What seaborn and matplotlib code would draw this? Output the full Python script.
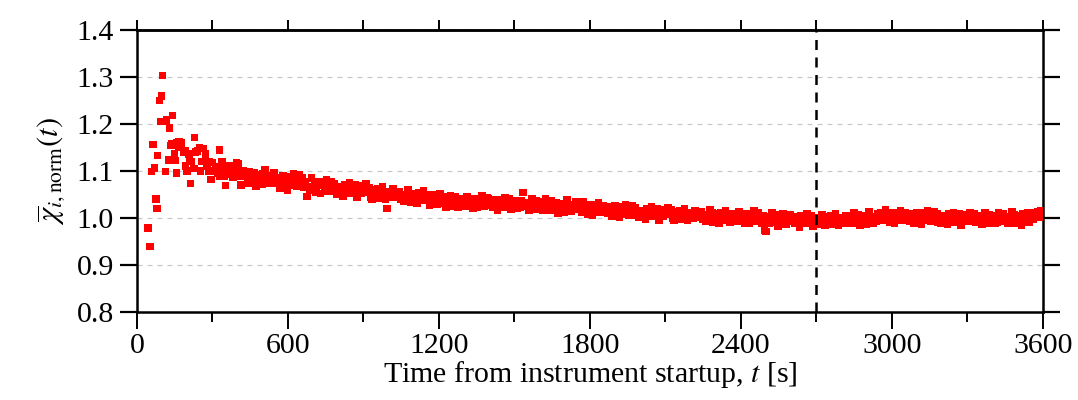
import numpy as np
import pandas as pd
import seaborn as sns
import matplotlib.pyplot as plt
from matplotlib.ticker import MultipleLocator, FormatStrFormatter

# warm-up phase, read point by point
warmup_t = [44, 52, 58, 64, 70, 75, 79, 82, 90, 95, 98, 102, 110, 114, 118, 126, 130, 135,
            140, 142, 150, 154, 158, 159, 165, 168, 176, 188, 192, 193, 199, 205, 209, 213,
            215, 226, 229, 233, 241, 249, 252, 258, 265, 272, 278, 285, 289, 294, 298, 305,
            312, 318, 322, 328, 331, 338, 343, 347, 352, 360, 365, 371, 377, 383, 390, 395,
            399, 404, 409, 413, 418, 424, 430]
warmup_v = [0.979, 0.939, 1.099, 1.156, 1.107, 1.041, 1.020, 1.133, 1.250, 1.205, 1.260, 1.303,
            1.205, 1.099, 1.208, 1.123, 1.192, 1.154, 1.157, 1.218, 1.136, 1.122, 1.096, 1.160,
            1.150, 1.162, 1.160, 1.140, 1.143, 1.110, 1.100, 1.136, 1.125, 1.073, 1.120, 1.105,
            1.171, 1.140, 1.142, 1.150, 1.100, 1.120, 1.148, 1.136, 1.110, 1.100, 1.120, 1.082,
            1.118, 1.100, 1.108, 1.100, 1.095, 1.145, 1.090, 1.120, 1.104, 1.090, 1.069, 1.110,
            1.093, 1.112, 1.100, 1.087, 1.098, 1.118, 1.105, 1.116, 1.090, 1.070, 1.094, 1.100,
            1.088]

# slow drift, one sample every 6 s from t = 436 s
drift_start, drift_step = 436, 6
drift_v = [
    1.091, 1.075, 1.099, 1.081, 1.085, 1.096, 1.068, 1.092, 1.083, 1.089, 1.072, 1.093, 1.103, 1.078, 1.086, 1.074, 1.090, 1.079, 1.097, 1.084,
    1.073, 1.086, 1.064, 1.080, 1.090, 1.071, 1.079, 1.060, 1.088, 1.082, 1.070, 1.094, 1.076, 1.067, 1.084, 1.091, 1.074, 1.085, 1.066, 1.078,
    1.046, 1.066, 1.060, 1.085, 1.062, 1.072, 1.055, 1.069, 1.078, 1.052, 1.075, 1.070, 1.063, 1.082, 1.058, 1.067, 1.076, 1.061, 1.073, 1.056,
    1.050, 1.063, 1.067, 1.059, 1.047, 1.071, 1.062, 1.054, 1.074, 1.052, 1.060, 1.057, 1.070, 1.045, 1.066, 1.069, 1.053, 1.061, 1.058, 1.072,
    1.054, 1.065, 1.045, 1.041, 1.056, 1.060, 1.049, 1.062, 1.043, 1.053, 1.067, 1.048, 1.040, 1.020, 1.051, 1.055, 1.044, 1.063, 1.046, 1.052,
    1.044, 1.055, 1.040, 1.049, 1.036, 1.046, 1.039, 1.060, 1.052, 1.034, 1.048, 1.043, 1.051, 1.031, 1.054, 1.045, 1.042, 1.057, 1.037, 1.050,
    1.038, 1.028, 1.044, 1.035, 1.049, 1.043, 1.029, 1.036, 1.051, 1.031, 1.041, 1.046, 1.023, 1.039, 1.032, 1.048, 1.040, 1.026, 1.045, 1.034,
    1.023, 1.037, 1.027, 1.040, 1.032, 1.025, 1.045, 1.029, 1.035, 1.039, 1.020, 1.041, 1.034, 1.022, 1.036, 1.028, 1.047, 1.026, 1.031, 1.042,
    1.041, 1.028, 1.031, 1.024, 1.038, 1.035, 1.016, 1.039, 1.027, 1.030, 1.023, 1.043, 1.025, 1.032, 1.040, 1.018, 1.029, 1.036, 1.033, 1.021,
    1.027, 1.022, 1.037, 1.054, 1.030, 1.026, 1.033, 1.016, 1.023, 1.041, 1.028, 1.019, 1.036, 1.024, 1.034, 1.018, 1.017, 1.021, 1.040, 1.029,
    1.029, 1.016, 1.036, 1.021, 1.024, 1.033, 1.010, 1.030, 1.022, 1.027, 1.013, 1.031, 1.039, 1.018, 1.025, 1.015, 1.028, 1.019, 1.034, 1.023,
    1.029, 1.018, 1.013, 1.034, 1.015, 1.023, 1.009, 1.021, 1.028, 1.007, 1.026, 1.022, 1.016, 1.032, 1.012, 1.019, 1.027, 1.014, 1.024, 1.010,
    1.012, 1.023, 1.004, 1.018, 1.026, 1.010, 1.017, 1.001, 1.024, 1.019, 1.009, 1.029, 1.014, 1.007, 1.021, 1.027, 1.013, 1.022, 1.006, 1.016,
    1.001, 1.013, 1.016, 1.009, 0.998, 1.020, 1.012, 1.005, 1.023, 1.003, 1.010, 1.007, 1.019, 0.996, 1.015, 1.018, 1.004, 1.011, 1.008, 1.021,
    1.008, 1.018, 1.000, 0.996, 1.010, 1.013, 1.003, 1.015, 0.998, 1.007, 1.020, 1.002, 0.995, 1.012, 1.005, 1.009, 0.999, 1.016, 1.001, 1.006,
    1.002, 1.013, 0.998, 1.007, 0.994, 1.004, 0.997, 1.018, 1.010, 0.992, 1.006, 1.001, 1.009, 0.989, 1.012, 1.003, 1.000, 1.015, 0.995, 1.008,
    0.991, 1.005, 0.995, 1.008, 1.000, 0.993, 1.013, 0.997, 1.003, 1.007, 0.988, 1.009, 1.002, 0.990, 1.004, 0.996, 1.015, 0.994, 0.999, 1.010,
    0.998, 0.988, 1.004, 0.974, 0.971, 1.003, 0.989, 0.996, 1.011, 0.991, 1.001, 1.006, 0.983, 0.999, 0.992, 1.008, 1.000, 0.986, 1.005, 0.994,
    1.006, 0.993, 0.996, 0.989, 1.003, 1.000, 0.981, 1.004, 0.992, 0.995, 0.988, 1.008, 0.990, 0.997, 1.005, 0.983, 0.994, 1.001, 0.998, 0.986,
]

# stable phase after the 2700 s marker
stable_start, stable_step = 2716, 6
stable_v = [
    0.997, 1.007, 0.989, 0.985, 0.999, 1.002, 0.992, 1.004, 0.987, 0.996, 1.009, 0.991, 0.984, 1.001, 0.994, 0.998, 0.988, 1.005, 0.990, 0.995,
    1.003, 0.990, 1.010, 0.995, 0.998, 1.007, 0.984, 1.004, 0.996, 1.001, 0.987, 1.005, 1.013, 0.992, 0.999, 0.989, 1.002, 0.993, 1.008, 0.997,
    1.012, 1.001, 0.996, 1.017, 0.998, 1.006, 0.992, 1.004, 1.011, 0.990, 1.009, 1.005, 0.999, 1.015, 0.995, 1.002, 1.010, 0.997, 1.007, 0.993,
    0.998, 1.009, 0.990, 1.004, 1.012, 0.996, 1.003, 0.987, 1.010, 1.005, 0.995, 1.015, 1.000, 0.993, 1.007, 1.013, 0.999, 1.008, 0.992, 1.002,
    0.990, 1.002, 1.005, 0.998, 0.987, 1.009, 1.001, 0.994, 1.012, 0.992, 0.999, 0.996, 1.008, 0.985, 1.004, 1.007, 0.993, 1.000, 0.997, 1.010,
    0.998, 0.993, 1.008, 0.991, 1.001, 0.997, 1.004, 0.987, 0.994, 1.012, 0.999, 0.990, 1.007, 0.995, 1.005, 0.989, 0.988, 0.992, 1.011, 1.000,
    0.998, 1.009, 0.994, 1.003, 0.990, 1.000, 0.993, 1.014, 1.006, 0.988, 1.002, 0.997, 1.005, 0.985, 1.008, 0.999, 0.996, 1.011, 0.991, 1.004,
    1.004, 0.997, 1.010, 1.006, 1.013, 1.002, 1.016, 1.009,
]

marker_t = 2700

drift_t = drift_start + drift_step * np.arange(len(drift_v))
stable_t = stable_start + stable_step * np.arange(len(stable_v))
df = pd.DataFrame({
    "t": np.concatenate([warmup_t, drift_t, stable_t]),
    "chi": np.concatenate([warmup_v, drift_v, stable_v]),
})

sns.set_style("white")
plt.rcParams["font.family"] = ["Liberation Serif", "DejaVu Serif"]
plt.rcParams["mathtext.fontset"] = "stix"
plt.rcParams["text.color"] = "black"
plt.rcParams["axes.labelcolor"] = "black"
plt.rcParams["xtick.color"] = "black"
plt.rcParams["ytick.color"] = "black"

fig = plt.figure(figsize=(10.78, 4.0), dpi=100)
ax = fig.add_axes([0.127, 0.22, 0.8405, 0.705])

ax.grid(axis="y", color="#c8c8c8", linestyle=(0, (4, 4)), linewidth=0.9)
ax.set_axisbelow(True)

sns.scatterplot(data=df, x="t", y="chi", ax=ax, marker="s", s=30, color="#ff0000",
                edgecolor="none", linewidth=0, zorder=3)

ax.axvline(marker_t, color="black", linestyle=(0, (4, 3)), linewidth=1.8, zorder=4)

ax.set_xlim(0, 3600)
ax.set_ylim(0.8, 1.4)
ax.xaxis.set_major_locator(MultipleLocator(600))
ax.xaxis.set_minor_locator(MultipleLocator(300))
ax.yaxis.set_major_locator(MultipleLocator(0.1))
ax.yaxis.set_major_formatter(FormatStrFormatter("%.1f"))

for side in ax.spines.values():
    side.set_linewidth(1.8)
    side.set_color("black")

ax.tick_params(axis="y", which="major", direction="out", length=12.5, width=1.6,
               left=True, right=True, labelsize=21.5, pad=4, colors="black")
ax.tick_params(axis="x", which="major", direction="out", length=12, width=1.4,
               bottom=True, top=False, labelsize=21.5, pad=3, colors="black")
ax.tick_params(axis="x", which="minor", direction="out", length=7, width=1.4,
               bottom=True, top=False, colors="black")

top = ax.secondary_xaxis("top")
top.set_xticks(np.arange(0, 3601, 300))
top.tick_params(direction="out", length=7, width=1.4, labeltop=False, colors="black")
top.spines["top"].set_linewidth(1.8)
top.spines["top"].set_color("black")

ax.set_xlabel("Time from instrument startup, $t$ [s]", fontsize=21.5, labelpad=0, color="black")
ax.set_ylabel(r"$\overline{\chi}_{i,\mathrm{norm}}(t)$", fontsize=22, labelpad=6, color="black")

fig.savefig("out.png", dpi=100)
